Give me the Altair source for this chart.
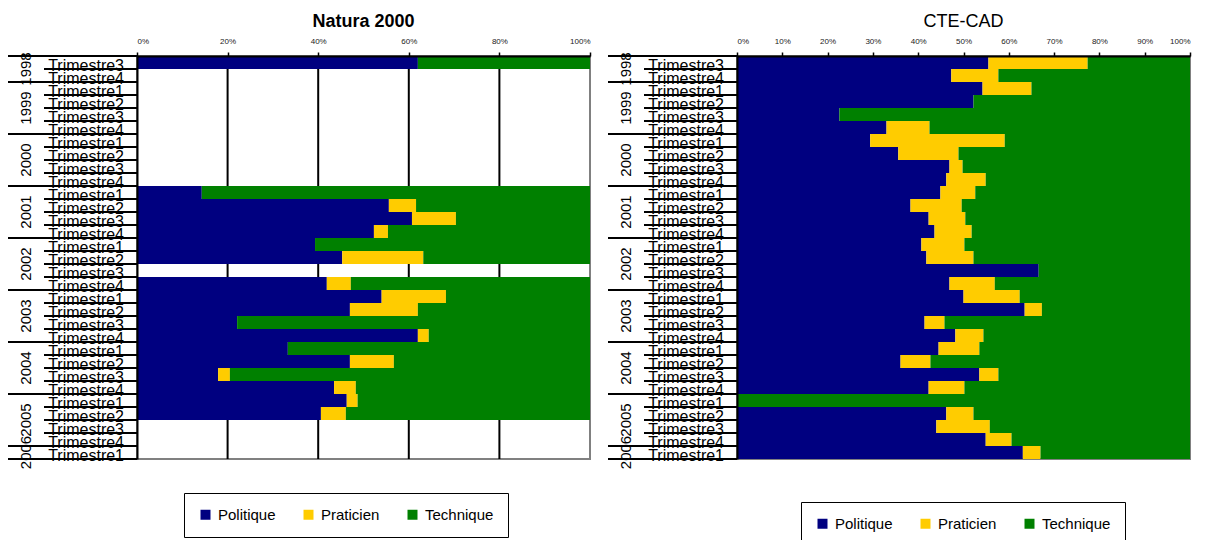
import altair as alt
import pandas as pd

# Row layout: one row per quarter, 1998 T3 .. 2006 T1
row_years = (["1998"] * 2 + ["1999"] * 4 + ["2000"] * 4 + ["2001"] * 4 + ["2002"] * 4
             + ["2003"] * 4 + ["2004"] * 4 + ["2005"] * 4 + ["2006"] * 1)
row_quarters = (["Trimestre3", "Trimestre4"]
                + ["Trimestre1", "Trimestre2", "Trimestre3", "Trimestre4"] * 7
                + ["Trimestre1"])

series_names = ["Politique", "Praticien", "Technique"]
series_colors = ["#000080", "#FFCC00", "#008000"]

# Natura 2000 shares (%), None = no data for the quarter
natura_politique = [62.0, None, None, None, None, None, None, None, None, None,
                    14.3, 55.6, 60.7, 52.3, 39.3, 45.3, None,
                    41.9, 54.0, 47.0, 22.1, 62.0, 33.3, 47.0, 17.9, 43.5, 46.3, 40.6,
                    None, None, None]
natura_praticien = [0.0, None, None, None, None, None, None, None, None, None,
                    0.0, 6.0, 9.7, 3.1, 0.0, 17.9, None,
                    5.3, 14.2, 15.0, 0.0, 2.4, 0.0, 9.7, 2.6, 4.8, 2.4, 5.5,
                    None, None, None]
natura_technique = [38.0, None, None, None, None, None, None, None, None, None,
                    85.7, 38.4, 29.6, 44.6, 60.7, 36.8, None,
                    52.8, 31.8, 38.0, 77.9, 35.6, 66.7, 43.3, 79.5, 51.7, 51.3, 53.9,
                    None, None, None]

# CTE-CAD shares (%)
cte_politique = [55.5, 47.3, 54.2, 52.2, 22.6, 33.0, 29.4, 35.6, 46.9, 46.2,
                 44.9, 38.3, 42.3, 43.6, 40.7, 41.8, 66.6, 46.9, 50.0, 63.5,
                 41.4, 48.2, 44.5, 36.1, 53.5, 42.3, 0.0, 46.2, 44.0, 54.9, 63.1]
cte_praticien = [21.9, 10.4, 10.8, 0.0, 0.0, 9.5, 29.7, 13.3, 2.9, 8.7,
                 7.7, 11.3, 8.1, 8.2, 9.5, 10.4, 0.0, 10.0, 12.4, 3.8,
                 4.4, 6.2, 9.0, 6.6, 4.2, 7.9, 0.0, 6.0, 11.8, 5.7, 3.9]
cte_technique = [22.6, 42.3, 35.0, 47.8, 77.4, 57.5, 40.9, 51.1, 50.2, 45.1,
                 47.4, 50.4, 49.6, 48.2, 49.8, 47.8, 33.4, 43.1, 37.6, 32.7,
                 54.2, 45.6, 46.5, 57.3, 42.3, 49.8, 100.0, 47.8, 44.2, 39.4, 33.0]

FONT = "Liberation Sans"
N_ROWS = len(row_years)
PLOT_W, PLOT_H = 453, 403


def bar_table(pol, pra, tec):
    recs = []
    for i, vals in enumerate(zip(pol, pra, tec)):
        for k, (name, v) in enumerate(zip(series_names, vals)):
            if v is not None:
                recs.append({"row": i, "series": name, "ord": k, "value": v})
    return pd.DataFrame(recs)


def year_groups():
    groups = []
    start = 0
    for i in range(1, N_ROWS + 1):
        if i == N_ROWS or row_years[i] != row_years[start]:
            groups.append({"year": row_years[start], "start": start, "end": i,
                           "mid": (start + i) / 2})
            start = i
    return pd.DataFrame(groups)


def panel(title, bold, pol, pra, tec, ticks, grid_vals, legend_xy, legend_pad, col_pad):
    y_scale = alt.Scale(domain=[0, N_ROWS], reverse=True, nice=False, zero=False)
    x_scale = alt.Scale(domain=[0, 100], nice=False, zero=False)
    x_axis = alt.Axis(
        orient="top", values=ticks, labelExpr="datum.value + '%'", title=None,
        grid=False, labelFontSize=8, labelColor="#222", labelPadding=7,
        tickSize=4, tickColor="black", tickWidth=1.5,
        domainColor="black", domainWidth=2, zindex=1)
    y_axis = alt.Axis(labels=False, ticks=False, title=None, grid=False,
                      domainColor="black", domainWidth=2, zindex=1)
    groups = year_groups()

    layers = []
    if grid_vals:
        # vertical gridlines behind the bars
        grid = alt.Chart(pd.DataFrame({"g": grid_vals, "t": 0, "b": N_ROWS})).mark_rule(
            color="black", strokeWidth=2
        ).encode(
            x=alt.X("g:Q", scale=x_scale, axis=x_axis),
            y=alt.Y("t:Q", scale=y_scale, axis=y_axis),
            y2="b:Q",
        )
        layers.append(grid)

    bars = alt.Chart(bar_table(pol, pra, tec)).transform_stack(
        stack="value", groupby=["row"], as_=["x0", "x1"],
        sort=[alt.SortField("ord", order="ascending")],
    ).transform_calculate(
        y_top="datum.row", y_bot="datum.row + 1"
    ).mark_rect(strokeWidth=0).encode(
        x=alt.X("x0:Q", scale=x_scale, axis=x_axis),
        x2="x1:Q",
        y=alt.Y("y_top:Q", scale=y_scale, axis=y_axis),
        y2="y_bot:Q",
        color=alt.Color("series:N", scale=alt.Scale(domain=series_names, range=series_colors),
                        legend=alt.Legend(
                            title=None, orient="none", direction="horizontal",
                            legendX=legend_xy[0], legendY=legend_xy[1],
                            strokeColor="black", padding=legend_pad,
                            symbolType="square", symbolSize=100, symbolStrokeWidth=0,
                            labelFont=FONT, labelFontSize=15, labelColor="black",
                            labelOffset=5, columnPadding=col_pad)),
    )
    layers.append(bars)

    bounds = pd.DataFrame({"b": list(range(N_ROWS + 1))})
    q_lines = alt.Chart(bounds).mark_rule(color="black", strokeWidth=2).encode(
        y=alt.Y("b:Q", scale=y_scale, axis=y_axis),
        x=alt.value(-93), x2=alt.value(0),
    )
    y_bounds = pd.DataFrame({"b": list(groups["start"]) + [N_ROWS]})
    y_lines = alt.Chart(y_bounds).mark_rule(color="black", strokeWidth=2).encode(
        y=alt.Y("b:Q", scale=y_scale, axis=y_axis),
        x=alt.value(-129), x2=alt.value(0),
    )

    labels = pd.DataFrame({"label": row_quarters, "yb": [i + 1 for i in range(N_ROWS)]})
    q_text = alt.Chart(labels).mark_text(
        align="right", baseline="alphabetic", dy=1.5, font=FONT, fontSize=16, color="black"
    ).encode(
        y=alt.Y("yb:Q", scale=y_scale, axis=y_axis),
        x=alt.value(-13),
        text="label:N",
    )
    y_text = alt.Chart(groups).mark_text(
        angle=270, align="center", baseline="middle", font=FONT, fontSize=15, color="black"
    ).encode(
        y=alt.Y("mid:Q", scale=y_scale, axis=y_axis),
        x=alt.value(-111),
        text="year:N",
    )
    layers += [q_lines, y_lines, q_text, y_text]

    return alt.layer(*layers).properties(
        width=PLOT_W, height=PLOT_H,
        title=alt.TitleParams(title, font=FONT, fontSize=18,
                              fontWeight="bold" if bold else "normal",
                              anchor="middle", frame="group", offset=6, color="black"),
    )


left = panel("Natura 2000", True, natura_politique, natura_praticien, natura_technique,
             [0, 20, 40, 60, 80, 100], [20, 40, 60, 80], (47, 437), 14, 25)
right = panel("CTE-CAD", False, cte_politique, cte_praticien, cte_technique,
              list(range(0, 101, 10)), [], (64, 446), 14, 25)

chart = alt.hconcat(left, right, spacing=147, bounds="flush").resolve_scale(
    color="independent"
).resolve_legend(color="independent").configure(
    font=FONT, padding={"left": 6, "top": 12, "right": 5, "bottom": -8}, background="white"
).configure_view(stroke="#808080", strokeWidth=2)

chart.save("out.html", embed_options={"renderer": "svg", "actions": False})
